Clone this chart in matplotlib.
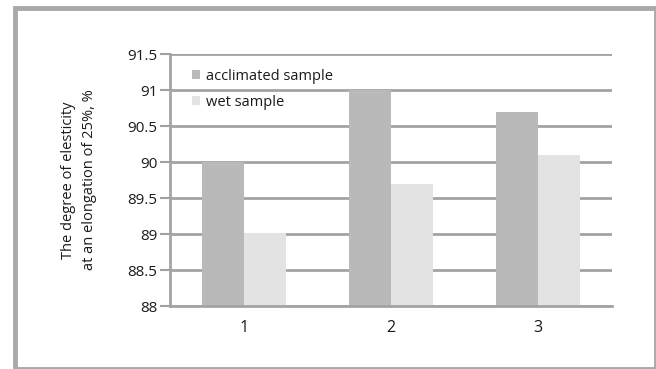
import matplotlib
matplotlib.use("Agg")
import matplotlib.pyplot as plt
from matplotlib.patches import Rectangle
import numpy as np

categories = ["1", "2", "3"]
acclimated = [90.0, 91.0, 90.7]
wet = [89.02, 89.7, 90.1]
series_names = ["acclimated sample", "wet sample"]
yticks = [88, 88.5, 89, 89.5, 90, 90.5, 91, 91.5]
ytick_labels = ["88", "88.5", "89", "89.5", "90", "90.5", "91", "91.5"]

plt.rcParams['font.family'] = ['Open Sans', 'DejaVu Sans']

fig = plt.figure(figsize=(6.56, 3.69), dpi=100)
# outer frame
fig.patches.append(Rectangle((15 / 656, 0.0), 1 - 15 / 656, 1 - 7.5 / 369,
                             transform=fig.transFigure, fill=False,
                             edgecolor="#a9a9a9", linewidth=3.5, zorder=0))

ax = fig.add_axes([170 / 656, 1 - 306 / 369, (612 - 170) / 656, (306 - 54) / 369])
x = np.arange(len(categories))
w = 0.286
ax.bar(x - w / 2, acclimated, width=w, color="#b9b9b9", label=series_names[0], zorder=3)
ax.bar(x + w / 2, wet, width=w, color="#e3e3e3", label=series_names[1], zorder=3)

ax.set_xlim(-0.5, 2.5)
ax.set_ylim(88, 91.5)
ax.set_yticks(yticks)
ax.set_yticklabels(ytick_labels, fontsize=11, color="#1a1a1a")
ax.set_xticks(x)
ax.set_xticklabels(categories, fontsize=11.5, color="#1a1a1a")
ax.tick_params(axis="x", length=0, pad=10)
ax.tick_params(axis="y", length=7, width=1.5, color="#a0a0a0", pad=2)
ax.yaxis.grid(True, color="#a3a3a3", linewidth=2)
ax.set_axisbelow(True)
for s in ["top", "right"]:
    ax.spines[s].set_visible(False)
for s in ["left", "bottom"]:
    ax.spines[s].set_color("#a3a3a3")
    ax.spines[s].set_linewidth(2)
    ax.spines[s].set_zorder(4)

ax.set_ylabel("The degree of elesticity\nat an elongation of 25%, %", fontsize=10.5,
              color="#1a1a1a", linespacing=1.55, labelpad=22)

leg = ax.legend(loc="upper left", bbox_to_anchor=(0.036, 0.965), frameon=False,
                fontsize=10.5, handlelength=0.6, handleheight=0.6, handletextpad=0.35,
                labelspacing=0.75, borderaxespad=0)
for t in leg.get_texts():
    t.set_color("#1a1a1a")

fig.savefig("out.png", dpi=100)
